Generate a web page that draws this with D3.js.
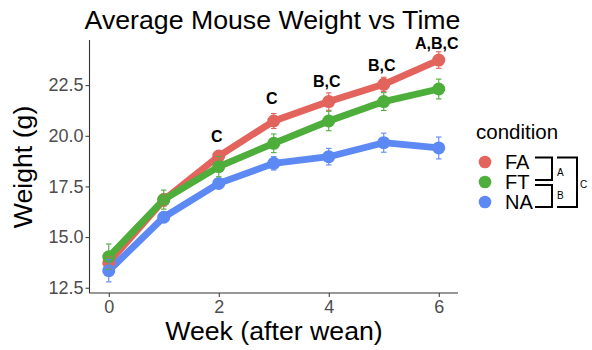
<!DOCTYPE html>
<html>
<head>
<meta charset="utf-8">
<script src="https://cdn.jsdelivr.net/npm/d3@7"></script>
<style>
  html, body { margin: 0; padding: 0; background: #fff; }
  svg { display: block; font-family: "Liberation Sans", Arial, sans-serif; }
</style>
</head>
<body>
<svg id="chart" width="592" height="350"></svg>
<script>
// Mean body weight (g) by week after weaning, per diet condition, with SE
const weeks = [0, 1, 2, 3, 4, 5, 6];
const conditions = ["FA", "FT", "NA"];
const colors = ["#E2645C", "#4EAE3B", "#5C89F3"];

const meanFA = [13.73, 16.83, 19.00, 20.73, 21.69, 22.54, 23.74];
const meanFT = [14.03, 16.85, 18.48, 19.63, 20.73, 21.69, 22.31];
const meanNA = [13.34, 15.98, 17.65, 18.64, 18.97, 19.66, 19.40];

const seFA = [0.30, 0.30, 0.20, 0.37, 0.43, 0.35, 0.41];
const seFT = [0.63, 0.47, 0.50, 0.46, 0.48, 0.44, 0.49];
const seNA = [0.55, 0.25, 0.20, 0.33, 0.41, 0.47, 0.54];

// Significance letters per week and the height they sit at
const sigWeeks = [2, 3, 4, 5, 6];
const sigLabels = ["C", "C", "B,C", "B,C", "A,B,C"];
const sigY = [19.96, 21.87, 22.67, 23.50, 24.57];

const yTicks = [12.5, 15.0, 17.5, 20.0, 22.5];
const xTicks = [0, 2, 4, 6];

const means = [meanFA, meanFT, meanNA];
const ses = [seFA, seFT, seNA];

const svg = d3.select("#chart");

const panel = { left: 89.5, right: 458, top: 40, bottom: 293 };
const x = d3.scaleLinear().domain([-0.35, 6.35]).range([panel.left, panel.right]);
const y = d3.scaleLinear().domain([12.24, 24.73]).range([panel.bottom, panel.top]);

// Axes (classic theme: axis lines, no grid)
const axisColor = "#333333";
const tickColor = "#4D4D4D";

const gx = svg.append("g").attr("transform", `translate(0,${panel.bottom})`)
  .call(d3.axisBottom(x).tickValues(xTicks).tickSize(4).tickPadding(3).tickFormat(d3.format("d")));
const gy = svg.append("g").attr("transform", `translate(${panel.left},0)`)
  .call(d3.axisLeft(y).tickValues(yTicks).tickSize(4).tickPadding(2).tickFormat(d3.format(".1f")));

[gx, gy].forEach(g => {
  g.select(".domain").remove();
  g.selectAll(".tick line").attr("stroke", axisColor).attr("stroke-width", 1);
  g.selectAll(".tick text").attr("fill", tickColor).attr("font-size", 18)
    .attr("font-family", "Liberation Sans, Arial, sans-serif");
});
svg.append("line").attr("x1", panel.left).attr("x2", panel.right)
  .attr("y1", panel.bottom).attr("y2", panel.bottom)
  .attr("stroke", axisColor).attr("stroke-width", 1.1);
svg.append("line").attr("x1", panel.left).attr("x2", panel.left)
  .attr("y1", panel.top).attr("y2", panel.bottom)
  .attr("stroke", axisColor).attr("stroke-width", 1.1);

// Series lines
const line = d3.line().x((d, i) => x(weeks[i])).y(d => y(d));
conditions.forEach((c, k) => {
  svg.append("path").datum(means[k])
    .attr("d", line).attr("fill", "none")
    .attr("stroke", colors[k]).attr("stroke-width", 6.8)
    .attr("stroke-linejoin", "round").attr("stroke-linecap", "butt");
});

// Points
conditions.forEach((c, k) => {
  svg.append("g").selectAll("circle").data(means[k]).join("circle")
    .attr("cx", (d, i) => x(weeks[i])).attr("cy", d => y(d))
    .attr("r", 6.5).attr("fill", colors[k]);
});

// Error bars
const capHalf = 0.05;
conditions.forEach((c, k) => {
  const g = svg.append("g").attr("stroke", colors[k]).attr("stroke-width", 1.1).attr("fill", "none");
  means[k].forEach((m, i) => {
    const lo = y(m - ses[k][i]), hi = y(m + ses[k][i]);
    const xc = x(weeks[i]);
    g.append("line").attr("x1", xc).attr("x2", xc).attr("y1", lo).attr("y2", hi);
    g.append("line").attr("x1", x(weeks[i] - capHalf)).attr("x2", x(weeks[i] + capHalf)).attr("y1", lo).attr("y2", lo);
    g.append("line").attr("x1", x(weeks[i] - capHalf)).attr("x2", x(weeks[i] + capHalf)).attr("y1", hi).attr("y2", hi);
  });
});

// Significance letters
svg.append("g").selectAll("text").data(sigLabels).join("text")
  .attr("x", (d, i) => x(sigWeeks[i]) - 2)
  .attr("y", (d, i) => y(sigY[i]))
  .attr("dy", "0.36em")
  .attr("text-anchor", "middle")
  .attr("font-size", 16).attr("font-weight", "bold").attr("fill", "#000")
  .text(d => d);

// Titles
svg.append("text").attr("x", 272.5).attr("y", 28.5).attr("text-anchor", "middle")
  .attr("font-size", 26.7).attr("fill", "#000").text("Average Mouse Weight vs Time");
svg.append("text").attr("x", 274).attr("y", 340).attr("text-anchor", "middle")
  .attr("font-size", 26.7).attr("fill", "#000").text("Week (after wean)");
svg.append("text").attr("transform", "translate(32,167) rotate(-90)").attr("text-anchor", "middle")
  .attr("font-size", 26.7).attr("fill", "#000").text("Weight (g)");

// Legend
const legend = svg.append("g");
legend.append("text").attr("x", 476).attr("y", 139).attr("font-size", 20.5).attr("fill", "#000").text("condition");
const keyY = [162, 182, 202];
conditions.forEach((c, k) => {
  legend.append("circle").attr("cx", 485).attr("cy", keyY[k]).attr("r", 6.3).attr("fill", colors[k]);
  legend.append("text").attr("x", 505).attr("y", keyY[k] + 7.2).attr("font-size", 20).attr("fill", "#000").text(c);
});

// Pairwise comparison brackets beside the legend
const br = legend.append("g").attr("stroke", "#000").attr("stroke-width", 2).attr("fill", "none");
br.append("path").attr("d", `M535,157.5 H552 V180 H535`);
br.append("path").attr("d", `M535,185 H552 V207 H535`);
br.append("path").attr("d", `M557,157.5 H577 V207 H557`);
legend.append("text").attr("x", 557).attr("y", 175.5).attr("font-size", 10).attr("fill", "#000").text("A");
legend.append("text").attr("x", 557).attr("y", 199).attr("font-size", 10).attr("fill", "#000").text("B");
legend.append("text").attr("x", 580).attr("y", 187.5).attr("font-size", 10).attr("fill", "#000").text("C");
</script>
</body>
</html>
